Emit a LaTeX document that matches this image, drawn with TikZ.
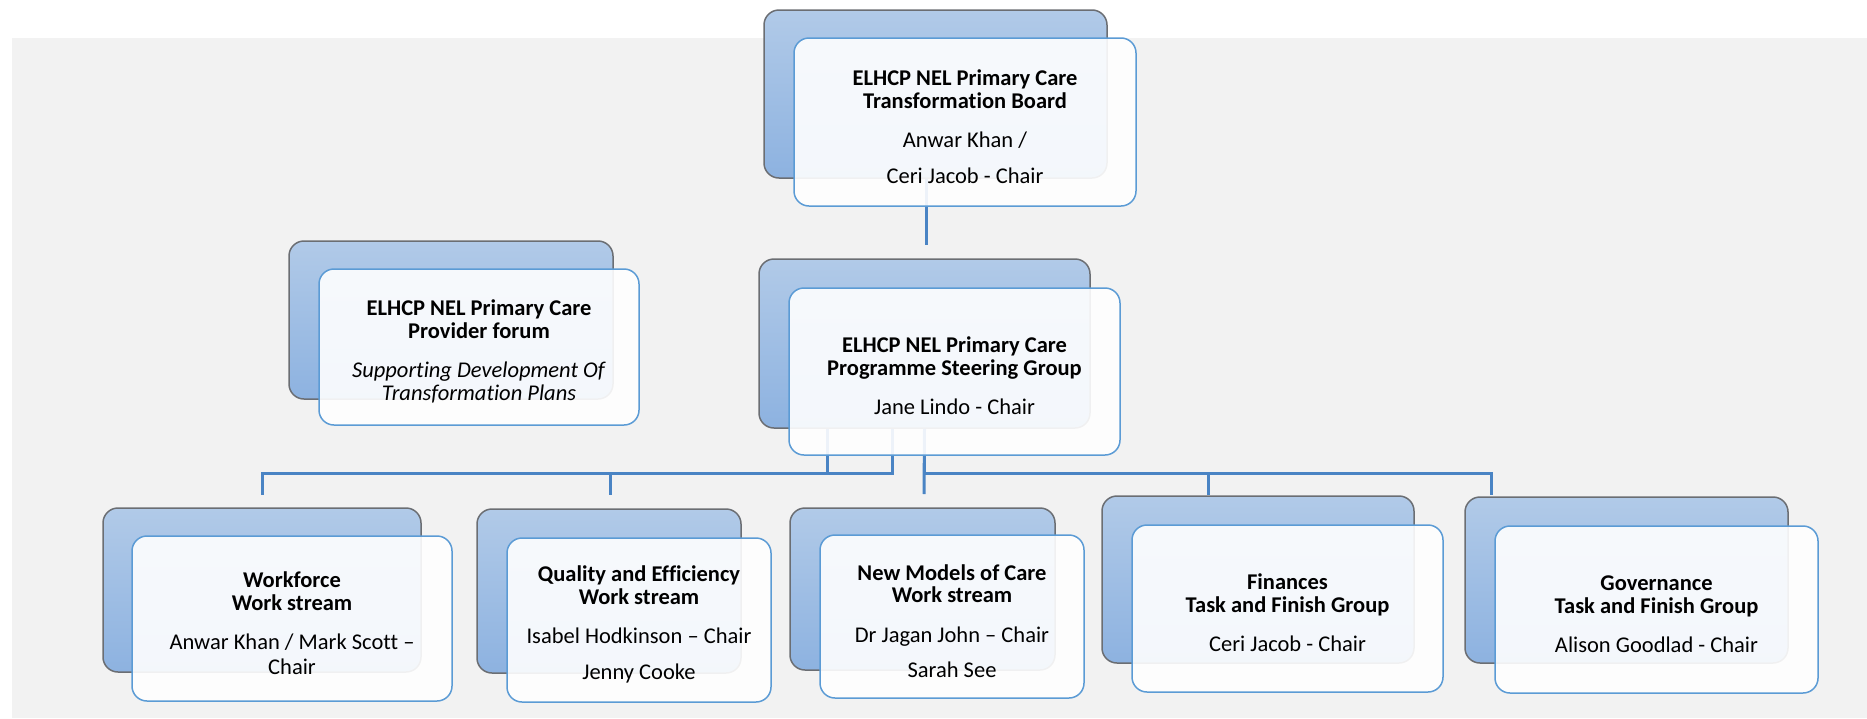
\documentclass[tikz,border=0pt]{standalone}
\usepackage{fontspec}
\setmainfont{Carlito}[Ligatures=NoCommon]
\usetikzlibrary{positioning,calc}

\definecolor{bggray}{HTML}{F2F2F2}
\definecolor{backtop}{HTML}{B1CAE8}
\definecolor{backbot}{HTML}{8DB2E0}
\definecolor{backline}{HTML}{6B6E73}
\definecolor{frontline}{HTML}{5B9BD5}
\definecolor{linkblue}{HTML}{4A84C4}

\newcommand{\toppad}{\rule{0pt}{25pt}}

\begin{document}
\begin{tikzpicture}[x=1pt, y=-1pt,
	every node/.style={font=\fontsize{22.5}{22.5}\selectfont},
	boxsize/.style 2 args={minimum width=#1, minimum height=#2},
	back/.style={rectangle, rounded corners=15pt, draw=backline, line width=1.5pt, top color=backtop, bottom color=backbot, inner sep=0pt},
	front/.style={rectangle, rounded corners=15pt, draw=frontline, line width=1.5pt, fill=white, fill opacity=0.9, text opacity=1, align=center, inner sep=0pt},
	link/.style={draw=linkblue, line width=3pt}]

		\useasboundingbox (0,0) rectangle (1867,718);
		\fill[white] (0,0) rectangle (1867,718);
		\fill[bggray] (12,38) rectangle (1867,718);

		% connector ends
		\coordinate (bar) at (924,473);
		\coordinate (steer-in) at (926,245);
		\coordinate (wf-in) at (262,495);
		\coordinate (qe-in) at (610,495);
		\coordinate (nm-in) at (924,494);
		\coordinate (fin-in) at (1208,495);
		\coordinate (gov-in) at (1491,495);

		% boxes
		\node[back, boxsize={343pt}{168pt}] (board-back) at (935.5,94) {};
		\node[back, boxsize={324pt}{158pt}] (forum-back) at (451,320) {};
		\node[back, boxsize={331pt}{169pt}] (steer-back) at (924.5,343.5) {};
		\node[back, boxsize={318pt}{164pt}] (wf-back) at (262,590) {};
		\node[back, boxsize={264pt}{164pt}] (qe-back) at (609,591) {};
		\node[back, boxsize={265pt}{162pt}] (nm-back) at (922.5,589) {};
		\node[back, boxsize={312pt}{167pt}] (fin-back) at (1258,579.5) {};
		\node[back, boxsize={323pt}{166pt}] (gov-back) at (1626.5,580) {};

		\draw[link] (steer-in |- board-back.south) -- (steer-in);
		\draw[link] ([xshift=-32pt]steer-back.south) |- (wf-in |- bar) -- (wf-in);
		\draw[link] ([xshift=-97pt]steer-back.south) |- (qe-in |- bar) -- (qe-in);
		\draw[link] (steer-back.south) -- (nm-in);
		\draw[link] (steer-back.south) |- (fin-in |- bar) -- (fin-in);
		\draw[link] (steer-back.south) |- (gov-in |- bar) -- (gov-in);

		\node[front, boxsize={342pt}{168pt}] (board) at (965,122)
			{\toppad\textbf{ELHCP NEL Primary Care}\\\textbf{Transformation Board}\\[17pt]Anwar Khan /\\[13pt]Ceri Jacob - Chair};
		\node[front, boxsize={320pt}{156pt}] (forum) at (479,347)
			{\toppad\textbf{ELHCP NEL Primary Care}\\\textbf{Provider forum}\\[17pt]\textit{Supporting Development Of}\\\textit{Transformation Plans}};
		\node[front, boxsize={331pt}{167pt}] (steer) at (954.5,371.5)
			{\toppad\textbf{ELHCP NEL Primary Care}\\\textbf{Programme Steering Group}\\[17pt]Jane Lindo - Chair};
		\node[front, boxsize={320pt}{165pt}] (wf) at (292,618.5)
			{\toppad\textbf{Workforce}\\\textbf{Work stream}\\[17pt]Anwar Khan / Mark Scott –\\[2pt]Chair};
		\node[front, boxsize={264pt}{164pt}] (qe) at (639,620)
			{\toppad\textbf{Quality and Efficiency}\\\textbf{Work stream}\\[17pt]Isabel Hodkinson – Chair\\[13pt]Jenny Cooke};
		\node[front, boxsize={264pt}{163pt}] (nm) at (952,616.5)
			{\toppad\textbf{New Models of Care}\\\textbf{Work stream}\\[17pt]Dr Jagan John – Chair\\[13pt]Sarah See};
		\node[front, boxsize={311pt}{167pt}] (fin) at (1287.5,608.5)
			{\toppad\textbf{Finances}\\\textbf{Task and Finish Group}\\[17pt]Ceri Jacob - Chair};
		\node[front, boxsize={323pt}{167pt}] (gov) at (1656.5,609.5)
			{\toppad\textbf{Governance}\\\textbf{Task and Finish Group}\\[17pt]Alison Goodlad - Chair};
	\end{tikzpicture}
\end{document}
